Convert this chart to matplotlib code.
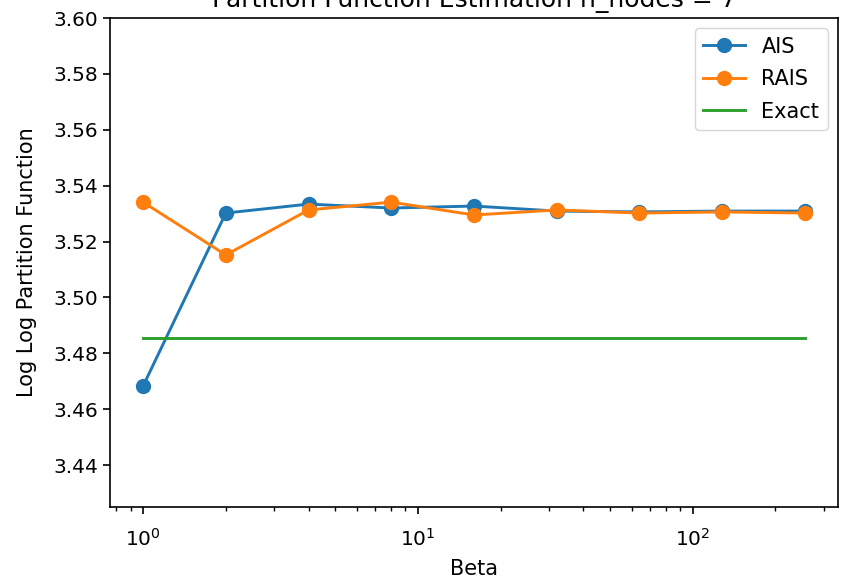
import matplotlib
matplotlib.use("Agg")
import matplotlib.pyplot as plt

betas = [1, 2, 4, 8, 16, 32, 64, 128, 256]
ais = [3.4683, 3.5302, 3.5334, 3.5320, 3.5327, 3.5309, 3.5306, 3.5309, 3.5309]
rais = [3.5341, 3.5152, 3.5313, 3.5341, 3.5295, 3.5313, 3.5302, 3.5306, 3.5302]
exact = 3.4855

plt.rcParams['axes.linewidth'] = 1.2
fig = plt.figure(figsize=(8.46, 5.82), dpi=100)
ax = fig.add_axes([110/846, 75/582, 728/846, 489/582])
ax.plot(betas, ais, marker='o', markersize=10, linewidth=2.1, label='AIS')
ax.plot(betas, rais, marker='o', markersize=10, linewidth=2.1, label='RAIS')
ax.plot(betas, [exact]*len(betas), linewidth=2.1, label='Exact')
ax.set_xscale('log')
ax.set_ylim(3.425, 3.60)
ax.set_xlabel('Beta', fontsize=15, labelpad=6.5)
ax.set_ylabel('Log Log Partition Function', fontsize=15, labelpad=12)
ax.set_title('Partition Function Estimation n_nodes = 7', fontsize=18, pad=8)
ax.tick_params(which='major', labelsize=14.5, length=5, width=1.2)
ax.tick_params(axis='x', which='major', pad=10)
ax.tick_params(which='minor', length=3, width=1.0)
ax.legend(loc='upper right', fontsize=15, labelspacing=0.6)
fig.savefig('out.png', dpi=100)
